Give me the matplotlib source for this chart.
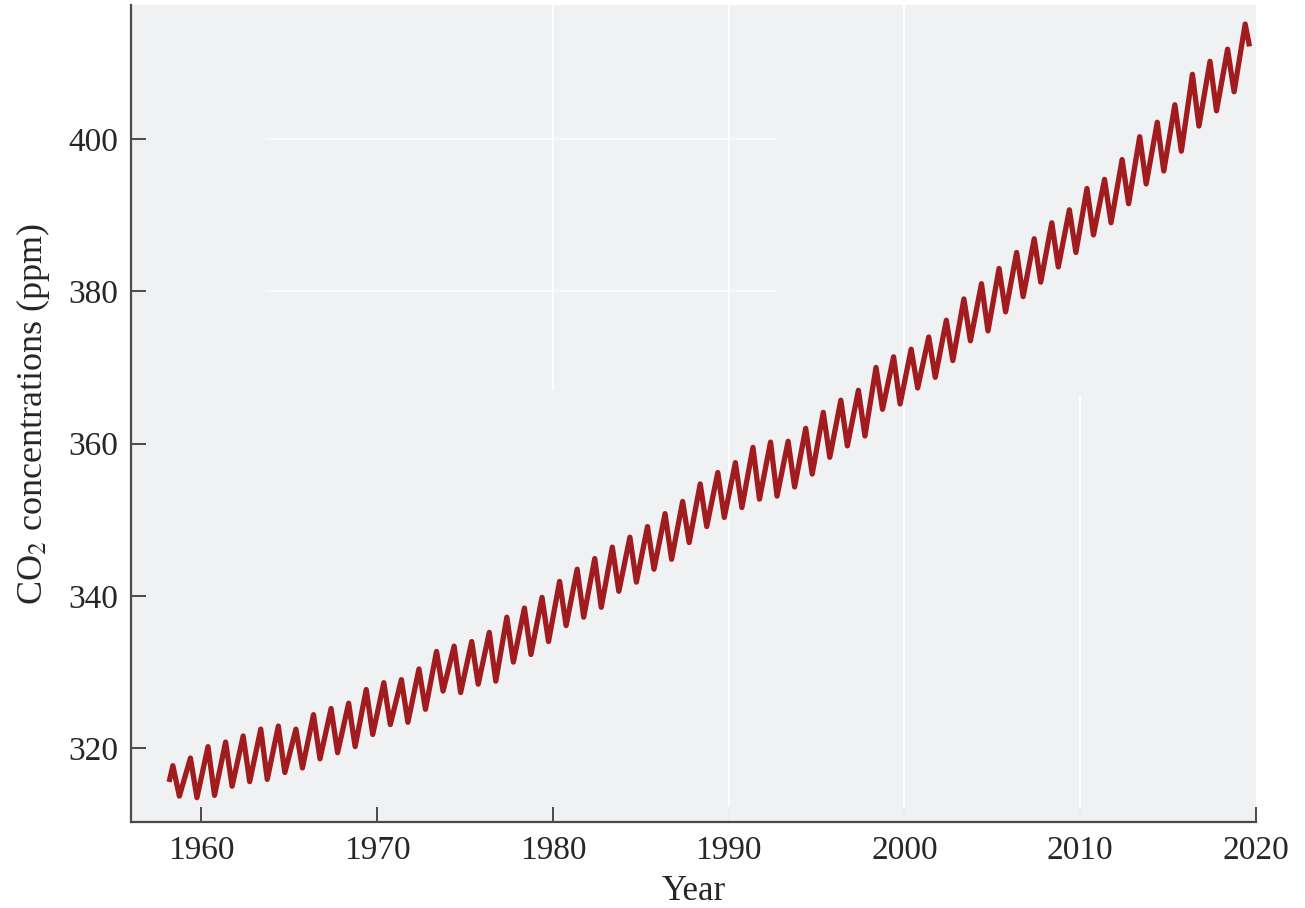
import numpy as np
import matplotlib.pyplot as plt

# Mauna Loa CO2: seasonal maximum (May) and minimum (Sep/Oct) per year
years = np.arange(1958, 2020)
peak_ppm = [317.7, 318.7, 320.2, 320.8, 321.6, 322.5, 322.9, 322.5, 324.4, 325.2,
            325.9, 327.7, 328.6, 329.0, 330.4, 332.7, 333.4, 334.0, 335.2, 337.2,
            338.4, 339.8, 341.9, 343.5, 344.9, 346.4, 347.7, 349.1, 350.8, 352.4,
            354.7, 356.2, 357.5, 359.5, 360.2, 360.3, 362.0, 364.1, 365.7, 367.0,
            370.0, 371.4, 372.4, 374.0, 376.2, 379.0, 381.0, 383.0, 385.1, 386.9,
            389.0, 390.7, 393.5, 394.7, 397.3, 400.3, 402.2, 404.5, 408.5, 410.2,
            411.8, 415.1]
trough_ppm = [313.7, 313.5, 313.8, 315.0, 315.6, 315.9, 316.8, 317.4, 318.6, 319.4,
              320.2, 321.8, 323.1, 323.4, 325.1, 327.5, 327.3, 328.4, 328.8, 331.3,
              332.3, 334.0, 336.1, 337.2, 338.5, 340.6, 341.8, 343.5, 344.8, 347.0,
              349.1, 350.3, 351.6, 352.7, 353.1, 354.3, 356.0, 358.2, 359.7, 361.0,
              364.5, 365.2, 367.3, 368.7, 370.9, 373.5, 374.8, 377.3, 379.3, 381.2,
              383.2, 385.1, 387.4, 389.0, 391.5, 394.1, 395.8, 398.4, 401.7, 403.7,
              406.2]
first_obs = (1958.2, 315.9)
last_obs = (2019.6, 412.5)

# zigzag: peak in May, low in late September
t = [first_obs[0]]
v = [first_obs[1]]
for i, yr in enumerate(years):
    t.append(yr + 0.38)
    v.append(peak_ppm[i])
    if i < len(trough_ppm):
        t.append(yr + 0.75)
        v.append(trough_ppm[i])
t.append(last_obs[0])
v.append(last_obs[1])

plt.rcParams['font.family'] = ['Liberation Serif', 'DejaVu Serif']
plt.rcParams['mathtext.fontset'] = 'stix'

fig = plt.figure(figsize=(13.05, 9.08), dpi=100)
ax = fig.add_axes([0.1004, 0.0947, 0.8621, 0.8998])
ax.set_facecolor('#f0f1f3')

# faint white streaks in the background
ax.axvline(1980, ymin=0.53, ymax=1, color='white', lw=1.5, alpha=0.9)
ax.axvline(1990, color='white', lw=1.5, alpha=0.9)
ax.axvline(2000, color='white', lw=1.5, alpha=0.9)
ax.axvline(2010, ymin=0, ymax=0.52, color='white', lw=1.5, alpha=0.9)
ax.hlines([380, 400], 1963.7, 1992.7, color='white', lw=1.2, alpha=0.7)

ax.plot(t, v, color='#a01c1e', lw=3.8, solid_joinstyle='round')

ax.set_xlim(1956.0, 2020)
ax.set_ylim(310.3, 417.6)
ax.set_xticks([1960, 1970, 1980, 1990, 2000, 2010, 2020])
ax.set_yticks([320, 340, 360, 380, 400])

for s in ['top', 'right']:
    ax.spines[s].set_visible(False)
for s in ['left', 'bottom']:
    ax.spines[s].set_color('#4a4a4a')
    ax.spines[s].set_linewidth(1.6)

ax.tick_params(direction='in', length=11, width=1.4, color='#4a4a4a',
               labelsize=24, labelcolor='#262626')
ax.tick_params(axis='y', pad=9)
ax.tick_params(axis='x', pad=10)

ax.set_xlabel('Year', fontsize=25, color='#262626', labelpad=6)
ax.set_ylabel('CO$_2$ concentrations (ppm)', fontsize=26, color='#262626', labelpad=12)

fig.savefig('out.png', dpi=100, facecolor='white')
